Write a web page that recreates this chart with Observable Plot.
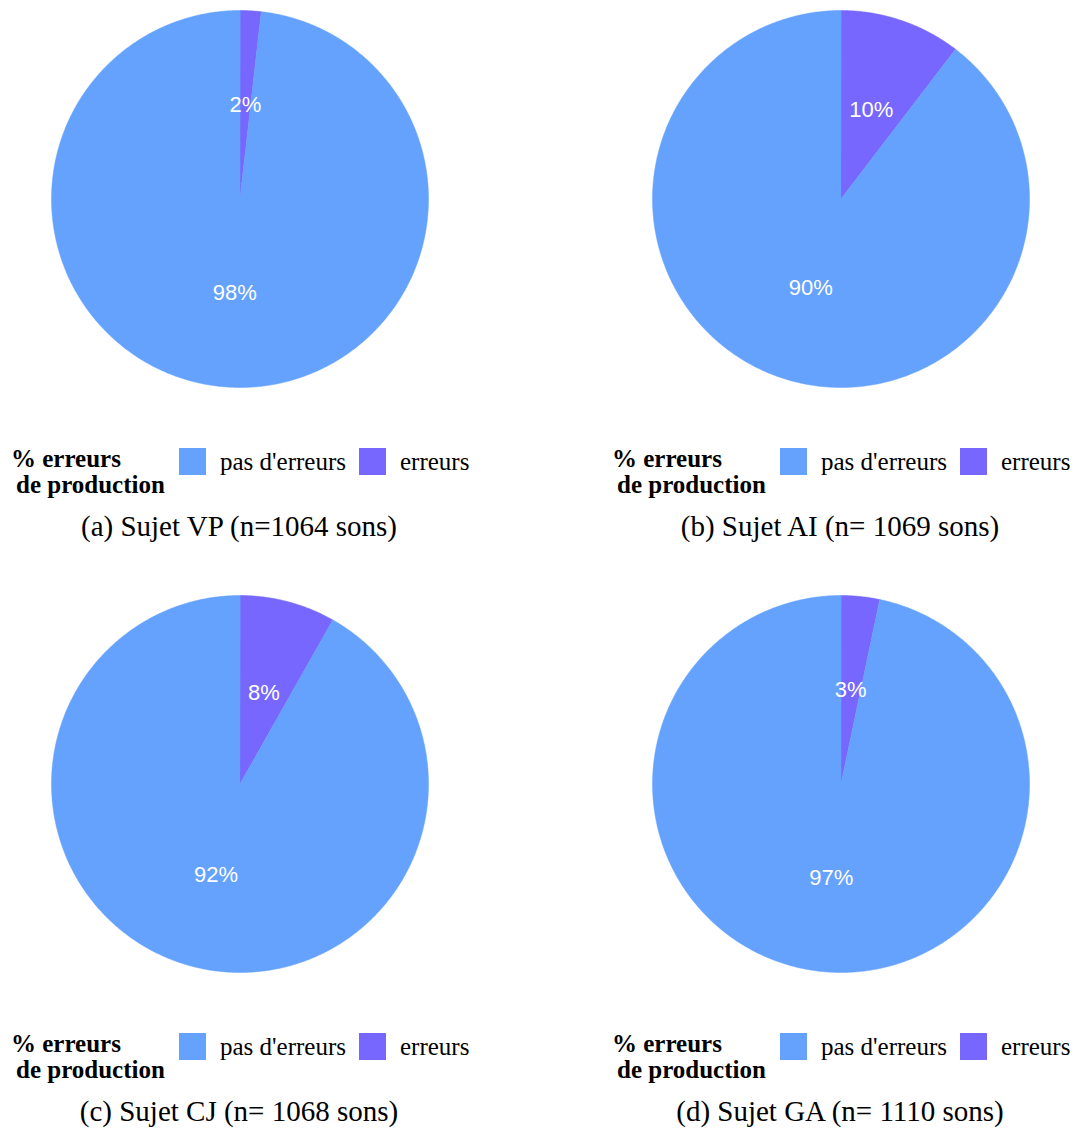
<!DOCTYPE html>
<html><head><meta charset="utf-8">
<script src="https://cdn.jsdelivr.net/npm/d3@7"></script>
<script src="https://cdn.jsdelivr.net/npm/@observablehq/plot@0.6"></script>
<style>
body{margin:0;background:#fff;width:1075px;height:1128px;position:relative;overflow:hidden;}
.panel{position:absolute;width:537px;height:564px;}
.panel svg{position:absolute;left:0;top:0;}
</style>
</head><body>
<script>
// Data
const categories = ["erreurs", "pas d'erreurs"];
const subjects = ["VP", "AI", "CJ", "GA"];
const errorPct = [1.8, 10.4, 8.2, 3.3];
const noErrorPct = [98.2, 89.6, 91.8, 96.7];
const captions = ["(a) Sujet VP (n=1064 sons)", "(b) Sujet AI (n= 1069 sons)", "(c) Sujet CJ (n= 1068 sons)", "(d) Sujet GA (n= 1110 sons)"];
const legendOrder = ["pas d'erreurs", "erreurs"];
const colors = {"pas d'erreurs": "#64a2fe", "erreurs": "#7767fe"};
const panelOffsets = [[0,0],[601,0],[0,585],[601,585]];

subjects.forEach((s, i) => {
  const vals = [errorPct[i], noErrorPct[i]];
  const total = d3.sum(vals);
  const pts = [];
  const labels = [];
  let acc = 0;
  vals.forEach((v, k) => {
    const a0 = acc / total * 2 * Math.PI;
    const a1 = (acc + v) / total * 2 * Math.PI;
    acc += v;
    const cat = categories[k];
    pts.push({cat, x: 0, y: 0});
    const n = Math.max(2, Math.ceil((a1 - a0) / (Math.PI / 360)));
    for (let j = 0; j <= n; j++) {
      const a = a0 + (a1 - a0) * j / n;
      pts.push({cat, x: Math.sin(a), y: Math.cos(a)});
    }
    const am = (a0 + a1) / 2;
    labels.push({cat, x: 0.5 * Math.sin(am), y: 0.5 * Math.cos(am), text: Math.round(v) + "%"});
  });

  const panel = document.createElement("div");
  panel.className = "panel";
  panel.style.left = panelOffsets[i][0] + "px";
  panel.style.top = panelOffsets[i][1] + "px";
  document.body.appendChild(panel);

  const chart = Plot.plot({
    width: 480, height: 400,
    marginLeft: 51, marginRight: 52, marginTop: 10, marginBottom: 13,
    x: {domain: [-1, 1], axis: null},
    y: {domain: [-1, 1], axis: null},
    color: {domain: legendOrder, range: legendOrder.map(c => colors[c])},
    style: {background: "transparent", overflow: "visible"},
    marks: [
      Plot.line(pts, {x: "x", y: "y", z: "cat", fill: "cat", stroke: "cat", strokeWidth: 0.5, curve: "linear-closed"}),
      Plot.text(labels, {x: "x", y: "y", text: "text", fill: "white", fontSize: 22, fontFamily: "'Liberation Sans', Arial, sans-serif"})
    ]
  });
  panel.appendChild(chart);

  // Legend + caption
  const svg = d3.select(panel).append("svg").attr("width", 537).attr("height", 564)
    .style("font-family", "'Liberation Serif', 'Times New Roman', serif");
  svg.append("text").attr("x", 11).attr("y", 467).attr("font-weight", "bold").attr("font-size", 25).text("% erreurs");
  svg.append("text").attr("x", 16).attr("y", 493).attr("font-weight", "bold").attr("font-size", 25).text("de production");
  const sw = [[179, 220], [359, 400]];
  legendOrder.forEach((c, k) => {
    svg.append("rect").attr("x", sw[k][0]).attr("y", 448).attr("width", 27).attr("height", 27).attr("fill", colors[c]);
    svg.append("text").attr("x", sw[k][1]).attr("y", 470).attr("font-size", 25).text(c);
  });
  svg.append("text").attr("x", 239).attr("y", 536).attr("text-anchor", "middle").attr("font-size", 29).text(captions[i]);
});
</script>
</body></html>
